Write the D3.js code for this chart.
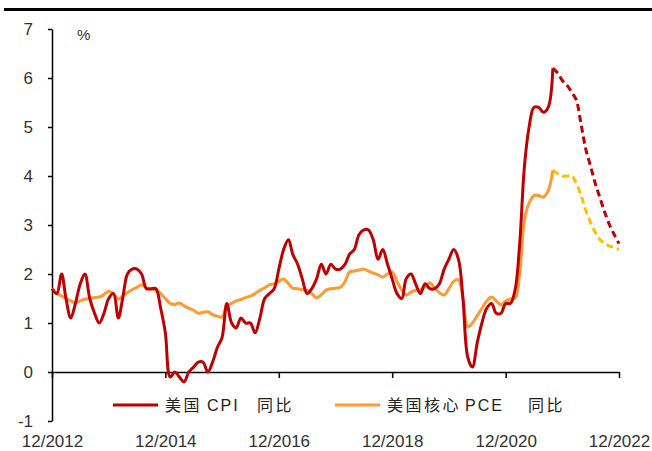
<!DOCTYPE html>
<html>
<head>
<meta charset="utf-8">
<script src="https://cdn.jsdelivr.net/npm/d3@7"></script>
<style>
  body { margin: 0; background: #fff; }
  svg { display: block; }
  .tick text { font-family: "Liberation Sans", Arial, sans-serif; font-size: 17px; fill: #333; }
  .legend text { font-size: 16px; fill: #222; }
  .legend .cjk { font-family: "Noto Sans CJK SC", sans-serif; letter-spacing: 2.5px; }
  .legend .lat { font-family: "Liberation Sans", Arial, sans-serif; letter-spacing: 2px; }
</style>
</head>
<body>
<div id="chart"></div>
<script>
// months from 12/2012 to 10/2021 (actual), then forecast to 12/2022
const startMonth = new Date(2012, 11, 1);

const cpiActual = [
  1.7,
  1.6, 2.0, 1.5, 1.1, 1.4, 1.8, 2.0, 1.5, 1.2, 1.0, 1.2, 1.5,
  1.6, 1.1, 1.5, 2.0, 2.1, 2.1, 2.0, 1.7, 1.7, 1.7, 1.3, 0.8,
  -0.1, 0.0, -0.1, -0.2, 0.0, 0.1, 0.2, 0.2, 0.0, 0.2, 0.5, 0.7,
  1.4, 1.0, 0.9, 1.1, 1.0, 1.0, 0.8, 1.1, 1.5, 1.6, 1.7, 2.1,
  2.5, 2.7, 2.4, 2.2, 1.9, 1.6, 1.7, 1.9, 2.2, 2.0, 2.2, 2.1,
  2.1, 2.2, 2.4, 2.5, 2.8, 2.9, 2.9, 2.7, 2.3, 2.5, 2.2, 1.9,
  1.6, 1.5, 1.9, 2.0, 1.8, 1.6, 1.8, 1.7, 1.7, 1.8, 2.1, 2.3,
  2.5, 2.3, 1.5, 0.3, 0.1, 0.6, 1.0, 1.3, 1.4, 1.2, 1.2, 1.4,
  1.4, 1.7, 2.6, 4.2, 5.0, 5.4, 5.4, 5.3, 5.4, 6.2
];
const cpiForecast = [6.2, 6.1, 5.95, 5.85, 5.7, 5.55, 5.05, 4.55, 4.2, 3.85, 3.55, 3.25, 3.0, 2.8, 2.62];

const pceActual = [
  1.71,
  1.6, 1.55, 1.5, 1.45, 1.41, 1.45, 1.49, 1.5, 1.52, 1.53, 1.58, 1.65,
  1.6, 1.49, 1.55, 1.62, 1.68, 1.73, 1.78, 1.72, 1.69, 1.68, 1.6, 1.5,
  1.4, 1.38, 1.41, 1.35, 1.3, 1.26, 1.2, 1.22, 1.23, 1.17, 1.14, 1.12,
  1.35, 1.4, 1.45, 1.48, 1.52, 1.55, 1.6, 1.67, 1.72, 1.78, 1.8, 1.85,
  1.9, 1.8, 1.71, 1.7, 1.68, 1.67, 1.6, 1.51, 1.58, 1.67, 1.7, 1.71,
  1.73, 1.85, 2.04, 2.06, 2.08, 2.1, 2.06, 2.02, 1.98, 1.94, 2.0, 2.04,
  1.85, 1.67, 1.57, 1.63, 1.67, 1.67, 1.75, 1.82, 1.71, 1.62, 1.57, 1.7,
  1.85, 1.88, 1.5, 0.92, 1.0, 1.15, 1.3, 1.45, 1.53, 1.45, 1.37, 1.45,
  1.49, 1.51, 2.0, 3.1, 3.45, 3.6, 3.6, 3.57, 3.7, 4.12
];
const pceForecast = [4.12, 4.05, 4.0, 4.0, 4.0, 3.85, 3.6, 3.3, 3.05, 2.85, 2.7, 2.62, 2.57, 2.54, 2.5];

const xTickLabels = ["12/2012", "12/2014", "12/2016", "12/2018", "12/2020", "12/2022"];
const yTicks = [-1, 0, 1, 2, 3, 4, 5, 6, 7];
// legend labels split into CJK / Latin runs
const legendLabels = [
  [["美国", "cjk"], ["CPI", "lat"], ["同比", "cjk"]],
  [["美国核心", "cjk"], ["PCE", "lat"], ["同比", "cjk"]]
];

const width = 652, height = 451;
const monthDate = i => new Date(startMonth.getFullYear(), startMonth.getMonth() + i, 1);
const forecastStart = cpiActual.length - 1;

const svg = d3.select("#chart").append("svg")
  .attr("width", width)
  .attr("height", height);

// header rule
svg.append("rect").attr("x", 4).attr("y", 8).attr("width", width - 4).attr("height", 3).attr("fill", "#000");

const x = d3.scaleTime()
  .domain([monthDate(0), monthDate(120)])
  .range([52, 619]);
const y = d3.scaleLinear()
  .domain([-1, 7])
  .range([421, 29]);

const parseTick = d3.timeParse("%m/%Y");

// x axis at zero
svg.append("g")
  .attr("transform", `translate(0,${y(0)})`)
  .call(d3.axisBottom(x)
    .tickValues(xTickLabels.map(parseTick))
    .tickFormat(d3.timeFormat("%m/%Y"))
    .tickSizeOuter(0)
    .tickSizeInner(6))
  .call(g => g.select(".domain").attr("stroke", "#000").attr("stroke-width", 1.5))
  .call(g => g.selectAll(".tick line").attr("stroke", "#000").attr("stroke-width", 1.5))
  .call(g => g.selectAll(".tick text").attr("y", y(-1) - y(0) + 26).attr("dy", 0));

// y axis
svg.append("g")
  .attr("transform", `translate(${x(monthDate(0))},0)`)
  .call(d3.axisLeft(y).tickValues(yTicks).tickFormat(d => String(d)).tickSizeOuter(0).tickSizeInner(4).tickPadding(15))
  .call(g => g.select(".domain").attr("stroke", "#000").attr("stroke-width", 1.5))
  .call(g => g.selectAll(".tick line").attr("stroke", "#000").attr("stroke-width", 1.5));

svg.append("text")
  .attr("x", 77).attr("y", 40)
  .attr("font-family", "Liberation Sans, Arial, sans-serif")
  .attr("font-size", 15)
  .attr("fill", "#333")
  .text("%");

const line = d3.line()
  .x(d => x(d.date))
  .y(d => y(d.value))
  .curve(d3.curveCatmullRom.alpha(0.5));

const toPoints = (arr, offset) => arr.map((v, i) => ({ date: monthDate(offset + i), value: v }));

const series = [
  { data: toPoints(pceActual, 0), color: "#FF9933", dash: null },
  { data: toPoints(pceForecast, forecastStart), color: "#FFC000", dash: "7,4" },
  { data: toPoints(cpiActual, 0), color: "#C00000", dash: null },
  { data: toPoints(cpiForecast, forecastStart), color: "#C00000", dash: "7,4" }
];

svg.append("g").selectAll("path")
  .data(series)
  .join("path")
  .attr("d", d => line(d.data))
  .attr("fill", "none")
  .attr("stroke", d => d.color)
  .attr("stroke-width", 3)
  .attr("stroke-dasharray", d => d.dash)
  .attr("stroke-linejoin", "round");

// legend
const legendItems = [
  { runs: legendLabels[0], color: "#C00000", x: 113, runX: [52, 94, 144] },
  { runs: legendLabels[1], color: "#FF9933", x: 335, runX: [52, 130, 193] }
];
const legend = svg.append("g").attr("class", "legend");
const item = legend.selectAll("g").data(legendItems).join("g")
  .attr("transform", d => `translate(${d.x},405)`);
item.append("line")
  .attr("x1", 0).attr("x2", 45)
  .attr("stroke", d => d.color)
  .attr("stroke-width", 3);
item.append("text")
  .attr("y", 6)
  .selectAll("tspan")
  .data(d => d.runs.map((r, i) => ({ text: r[0], cls: r[1], x: d.runX[i] })))
  .join("tspan")
  .attr("class", d => d.cls)
  .attr("x", d => d.x)
  .text(d => d.text);
</script>
</body>
</html>
